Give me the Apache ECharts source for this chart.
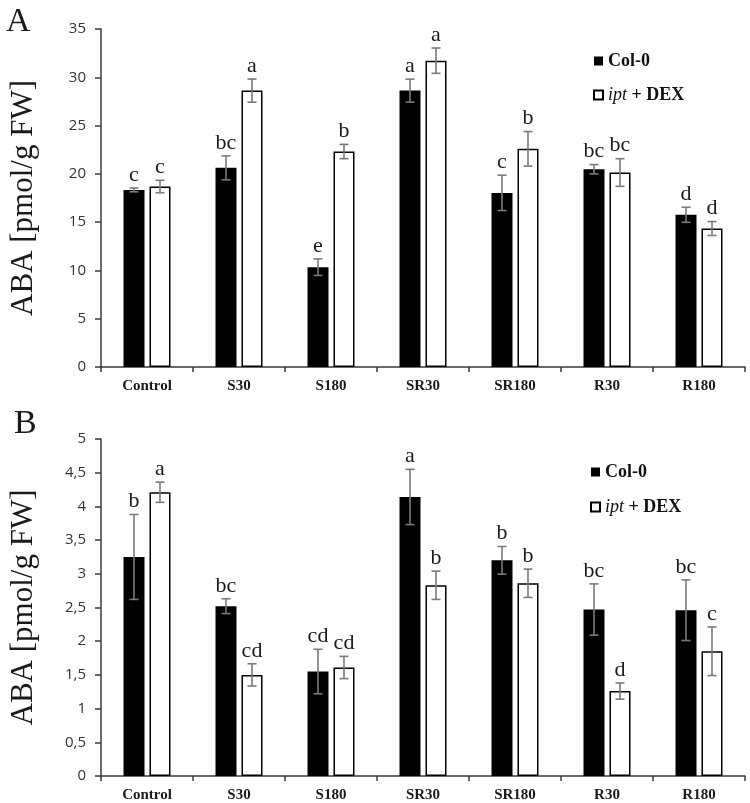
<!DOCTYPE html>
<html>
<head>
<meta charset="utf-8">
<script src="https://cdn.jsdelivr.net/npm/echarts@6/dist/echarts.min.js"></script>
<style>
html,body{margin:0;padding:0;background:#fff;}
#main{width:750px;height:803px;}
</style>
</head>
<body>
<div id="main"></div>
<script>
// ---------- data ----------
const categories = ['Control', 'S30', 'S180', 'SR30', 'SR180', 'R30', 'R180'];
const seriesNames = ['Col-0', 'ipt + DEX'];

// Panel A
const aCol = [18.34, 20.62, 10.34, 28.62, 18.03, 20.48, 15.76];
const aColErr = [0.2, 1.24, 0.86, 1.19, 1.83, 0.48, 0.78];
const aColLetters = ['c', 'bc', 'e', 'a', 'c', 'bc', 'd'];
const aIpt = [18.69, 28.62, 22.31, 31.72, 22.59, 20.14, 14.34];
const aIptErr = [0.64, 1.2, 0.74, 1.31, 1.79, 1.43, 0.72];
const aIptLetters = ['c', 'a', 'b', 'a', 'b', 'bc', 'd'];

// Panel B
const bCol = [3.25, 2.52, 1.55, 4.14, 3.20, 2.47, 2.46];
const bColErr = [0.63, 0.11, 0.33, 0.41, 0.205, 0.38, 0.45];
const bColLetters = ['b', 'bc', 'cd', 'a', 'b', 'bc', 'bc'];
const bIpt = [4.21, 1.50, 1.61, 2.83, 2.86, 1.26, 1.85];
const bIptErr = [0.15, 0.165, 0.165, 0.21, 0.21, 0.12, 0.36];
const bIptLetters = ['a', 'cd', 'cd', 'b', 'b', 'd', 'c'];

const ticksA = [0, 5, 10, 15, 20, 25, 30, 35];
const ticksB = ['0', '0,5', '1', '1,5', '2', '2,5', '3', '3,5', '4', '4,5', '5'];

// ---------- style ----------
const BAR_W = 21;
const BAR_GAP_PX = 5;
const OFFSET = (BAR_W + BAR_GAP_PX) / 2;
const AXIS_COLOR = '#3a3a3a';
const ERR_COLOR = '#7a7a7a';
const SERIF = '"Liberation Serif", "DejaVu Serif", serif';

function errRender(offset, letters) {
  return function (params, api) {
    const idx = api.value(0);
    const v = api.value(1);
    const e = api.value(2);
    const x = api.coord([idx, 0])[0] + offset;
    const yTop = api.coord([idx, v + e])[1];
    const yBot = api.coord([idx, v - e])[1];
    const cap = 4.5;
    const ls = { stroke: ERR_COLOR, lineWidth: 1.6 };
    return {
      type: 'group',
      children: [
        { type: 'line', shape: { x1: x, y1: yTop, x2: x, y2: yBot }, style: ls },
        { type: 'line', shape: { x1: x - cap, y1: yTop, x2: x + cap, y2: yTop }, style: ls },
        { type: 'line', shape: { x1: x - cap, y1: yBot, x2: x + cap, y2: yBot }, style: ls },
        {
          type: 'text', x: x, y: yTop - 2,
          style: {
            text: letters[params.dataIndex],
            font: '22px ' + SERIF,
            fill: '#1a1a1a',
            textAlign: 'center',
            textVerticalAlign: 'bottom'
          }
        }
      ]
    };
  };
}

function errData(vals, errs) {
  return vals.map((v, i) => [i, v, errs[i]]);
}

const grids = [
  { left: 85, right: 5, top: 29, height: 338 },
  { left: 85, right: 5, top: 439, height: 338 }
];

function xAx(gi) {
  return {
    type: 'category', gridIndex: gi, data: categories,
    axisLine: { lineStyle: { color: AXIS_COLOR, width: 1.5 } },
    axisTick: { show: true, length: 5, lineStyle: { color: AXIS_COLOR, width: 1.5 } },
    axisLabel: { margin: 12, fontFamily: SERIF, fontWeight: 'bold', fontSize: 15, color: '#1a1a1a' }
  };
}

function yAx(gi, max, interval, fmt) {
  return {
    type: 'value', gridIndex: gi, min: 0, max: max, interval: interval,
    name: 'ABA [pmol/g FW]', nameLocation: 'middle', nameGap: 62, nameRotate: 90,
    nameTextStyle: { fontFamily: SERIF, fontSize: 31, color: '#1a1a1a' },
    splitLine: { show: false },
    axisLine: { show: true, lineStyle: { color: AXIS_COLOR, width: 1.5 } },
    axisTick: { show: true, length: 6, lineStyle: { color: AXIS_COLOR, width: 1.5 } },
    axisLabel: { margin: 15, fontFamily: '"Open Sans", sans-serif', fontSize: 15, color: '#333', formatter: fmt }
  };
}

const colStyle = { color: '#000', borderColor: '#000', borderWidth: 0 };
const iptStyle = { color: '#fff', borderColor: '#000', borderWidth: 1.5 };

function bars(gi, col, ipt) {
  return [
    { name: seriesNames[0], type: 'bar', xAxisIndex: gi, yAxisIndex: gi, data: col,
      barWidth: BAR_W, barGap: (BAR_GAP_PX / BAR_W * 100) + '%', itemStyle: colStyle, z: 2, silent: true },
    { name: seriesNames[1], type: 'bar', xAxisIndex: gi, yAxisIndex: gi, data: ipt,
      barWidth: BAR_W, barGap: (BAR_GAP_PX / BAR_W * 100) + '%', itemStyle: iptStyle, z: 2, silent: true }
  ];
}

function errs(gi, vals, e, letters, offset) {
  return {
    type: 'custom', xAxisIndex: gi, yAxisIndex: gi, z: 5, silent: true,
    renderItem: errRender(offset, letters),
    data: errData(vals, e)
  };
}

function legend(left, top, gap) {
  return {
    orient: 'vertical', left: left, top: top, itemGap: gap,
    itemWidth: 9, itemHeight: 9, icon: 'rect',
    data: seriesNames,
    formatter: function (n) {
      return n === 'Col-0' ? '{b|Col-0}' : '{i|ipt}{b| + DEX}';
    },
    textStyle: {
      fontFamily: SERIF, fontSize: 18, color: '#111',
      lineHeight: 20,
      rich: {
        b: { fontFamily: SERIF, fontWeight: 'bold', fontSize: 18, color: '#111', lineHeight: 20 },
        i: { fontFamily: SERIF, fontStyle: 'italic', fontSize: 18, color: '#111', lineHeight: 20 }
      }
    }
  };
}

const option = {
  backgroundColor: '#fff',
  animation: false,
  grid: grids,
  xAxis: [xAx(0), xAx(1)],
  yAxis: [
    yAx(0, 35, 5, v => String(v)),
    yAx(1, 5, 0.5, v => ticksB[Math.round(v / 0.5)])
  ],
  legend: [legend(588, 46, 14), legend(585, 457, 15)],
  graphic: [
    { type: 'text', left: 6, top: 5, style: { text: 'A', font: '34px ' + SERIF, fill: '#1a1a1a' } },
    { type: 'text', left: 14, top: 407, style: { text: 'B', font: '34px ' + SERIF, fill: '#1a1a1a' } }
  ],
  series: [
    ...bars(0, aCol, aIpt),
    errs(0, aCol, aColErr, aColLetters, -OFFSET),
    errs(0, aIpt, aIptErr, aIptLetters, OFFSET),
    ...bars(1, bCol, bIpt),
    errs(1, bCol, bColErr, bColLetters, -OFFSET),
    errs(1, bIpt, bIptErr, bIptLetters, OFFSET)
  ]
};

const chart = echarts.init(document.getElementById('main'), null, { renderer: 'canvas' });
chart.setOption(option);
</script>
</body>
</html>
